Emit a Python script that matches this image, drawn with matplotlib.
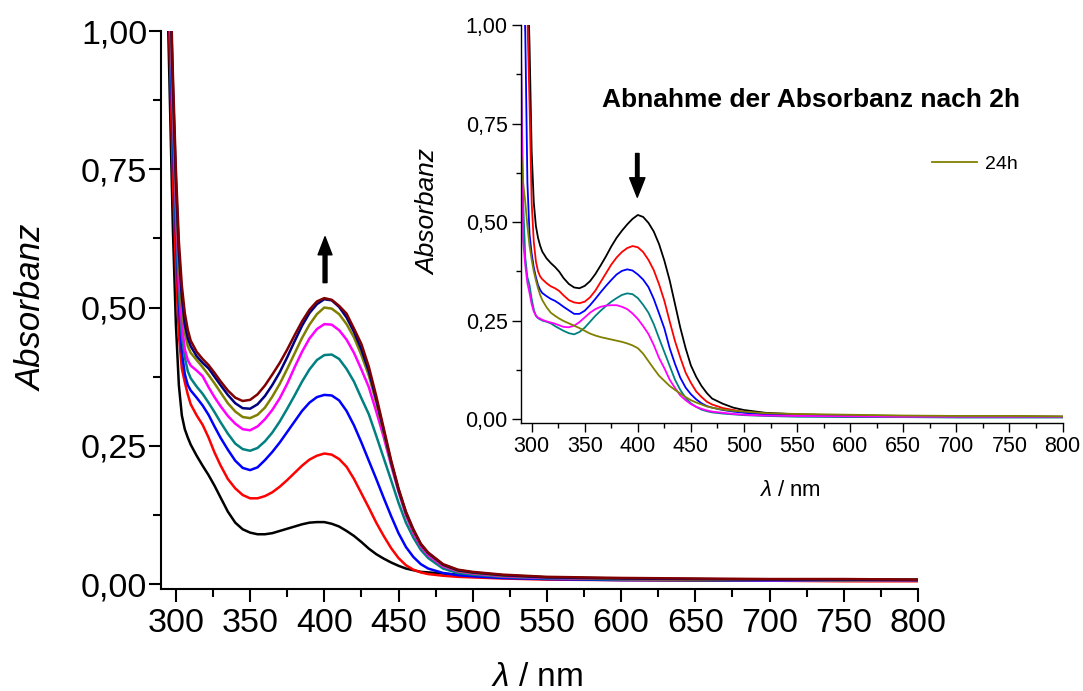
import matplotlib
matplotlib.use("Agg")
import matplotlib.pyplot as plt
from matplotlib.ticker import MultipleLocator, FuncFormatter

plt.rcParams['font.family'] = ['Liberation Sans', 'DejaVu Sans']
plt.rcParams['mathtext.fontset'] = 'custom'
plt.rcParams['mathtext.it'] = 'Liberation Sans:italic'
plt.rcParams['mathtext.rm'] = 'Liberation Sans'

# --- main spectra (nm, absorbance) ---
wl = [291, 294, 296, 298, 300, 302, 304, 306, 308, 310, 314, 318, 322, 326, 330,
      335, 340, 345, 350, 355, 360, 365, 370, 375, 380, 385, 390, 395, 400, 405,
      410, 415, 420, 425, 430, 435, 440, 445, 450, 455, 460, 465, 470, 480, 490,
      500, 520, 550, 600, 650, 700, 750, 800]

a_black = [1.6, 1.1, 0.87, 0.64, 0.47, 0.36, 0.305, 0.28, 0.265, 0.252, 0.232, 0.214, 0.197, 0.178, 0.157,
           0.131, 0.111, 0.099, 0.093, 0.090, 0.090, 0.092, 0.096, 0.100, 0.104, 0.108, 0.111, 0.112, 0.112, 0.109,
           0.104, 0.096, 0.087, 0.076, 0.064, 0.054, 0.046, 0.039, 0.033, 0.028, 0.025, 0.022, 0.021, 0.019, 0.017,
           0.016, 0.013, 0.011, 0.009, 0.008, 0.008, 0.008, 0.008]
a_red = [1.6, 1.2, 0.95, 0.73, 0.57, 0.45, 0.39, 0.365, 0.343, 0.325, 0.305, 0.288, 0.265, 0.238, 0.215,
         0.190, 0.173, 0.161, 0.155, 0.155, 0.159, 0.166, 0.176, 0.188, 0.201, 0.214, 0.225, 0.232, 0.236, 0.234,
         0.226, 0.212, 0.190, 0.164, 0.138, 0.111, 0.087, 0.065, 0.047, 0.034, 0.026, 0.021, 0.018, 0.015, 0.013,
         0.012, 0.010, 0.008, 0.007, 0.006, 0.006, 0.005, 0.005]
a_blue = [1.6, 1.25, 1.0, 0.8, 0.64, 0.51, 0.42, 0.38, 0.36, 0.35, 0.337, 0.323, 0.306, 0.285, 0.265,
          0.243, 0.223, 0.210, 0.206, 0.211, 0.224, 0.239, 0.256, 0.275, 0.294, 0.313, 0.328, 0.338, 0.342, 0.341,
          0.332, 0.313, 0.287, 0.256, 0.223, 0.190, 0.156, 0.123, 0.092, 0.067, 0.049, 0.036, 0.028, 0.020, 0.016,
          0.014, 0.011, 0.009, 0.007, 0.007, 0.006, 0.006, 0.006]
a_teal = [1.6, 1.28, 1.03, 0.83, 0.66, 0.53, 0.45, 0.41, 0.385, 0.372, 0.357, 0.344, 0.328, 0.311, 0.293,
          0.272, 0.254, 0.244, 0.241, 0.246, 0.258, 0.274, 0.294, 0.317, 0.341, 0.366, 0.388, 0.405, 0.414, 0.415,
          0.407, 0.389, 0.366, 0.336, 0.307, 0.268, 0.228, 0.188, 0.147, 0.111, 0.084, 0.062, 0.047, 0.028, 0.020,
          0.017, 0.013, 0.010, 0.008, 0.007, 0.007, 0.006, 0.006]
a_magenta = [1.6, 1.3, 1.06, 0.86, 0.69, 0.56, 0.47, 0.425, 0.405, 0.395, 0.386, 0.376, 0.356, 0.338, 0.322,
             0.304, 0.290, 0.280, 0.278, 0.285, 0.298, 0.315, 0.336, 0.362, 0.392, 0.420, 0.444, 0.461, 0.470, 0.469,
             0.459, 0.442, 0.418, 0.388, 0.356, 0.312, 0.266, 0.215, 0.167, 0.124, 0.092, 0.068, 0.052, 0.032, 0.023,
             0.019, 0.014, 0.011, 0.009, 0.008, 0.007, 0.007, 0.006]
a_olive = [1.6, 1.32, 1.08, 0.88, 0.71, 0.58, 0.50, 0.455, 0.43, 0.418, 0.405, 0.392, 0.378, 0.363, 0.347,
           0.327, 0.312, 0.302, 0.300, 0.306, 0.319, 0.339, 0.362, 0.389, 0.417, 0.445, 0.469, 0.488, 0.500, 0.498,
           0.488, 0.470, 0.446, 0.414, 0.377, 0.328, 0.274, 0.219, 0.170, 0.127, 0.096, 0.071, 0.055, 0.034, 0.024,
           0.020, 0.015, 0.012, 0.009, 0.008, 0.008, 0.007, 0.007]
a_navy = [1.6, 1.34, 1.1, 0.9, 0.73, 0.60, 0.52, 0.47, 0.445, 0.43, 0.412, 0.400, 0.390, 0.375, 0.360,
          0.342, 0.327, 0.318, 0.317, 0.325, 0.340, 0.360, 0.383, 0.410, 0.439, 0.467, 0.490, 0.506, 0.515, 0.513,
          0.501, 0.482, 0.456, 0.424, 0.385, 0.334, 0.278, 0.221, 0.171, 0.129, 0.098, 0.072, 0.056, 0.035, 0.025,
          0.021, 0.016, 0.012, 0.010, 0.009, 0.008, 0.008, 0.007]
a_maroon = [1.6, 1.36, 1.12, 0.92, 0.75, 0.62, 0.54, 0.49, 0.46, 0.44, 0.42, 0.407, 0.396, 0.382, 0.367,
            0.350, 0.337, 0.331, 0.333, 0.343, 0.359, 0.379, 0.400, 0.424, 0.450, 0.475, 0.496, 0.511, 0.517, 0.514,
            0.503, 0.489, 0.462, 0.434, 0.393, 0.340, 0.282, 0.224, 0.173, 0.131, 0.099, 0.073, 0.057, 0.036, 0.026,
            0.022, 0.017, 0.013, 0.011, 0.010, 0.009, 0.009, 0.008]

main_series = [(a_black, '#000000'), (a_red, '#ff0000'), (a_blue, '#0000ff'), (a_teal, '#008080'),
               (a_magenta, '#ff00ff'), (a_olive, '#808000'), (a_navy, '#000080'), (a_maroon, '#800000')]

# --- inset spectra (decrease after 2h) ---
wl_in = [289, 292, 294, 296, 298, 300, 302, 304, 306, 308, 310, 314, 318, 322, 326,
         330, 335, 340, 345, 350, 355, 360, 365, 370, 375, 380, 385, 390, 395, 400,
         405, 410, 415, 420, 425, 430, 435, 440, 445, 450, 455, 460, 465, 470, 480,
         490, 500, 520, 550, 600, 650, 700, 750, 800]

b_black = [1.5, 1.3, 1.22, 1.15, 0.95, 0.68, 0.55, 0.49, 0.46, 0.44, 0.425, 0.408, 0.396, 0.386, 0.374,
           0.358, 0.343, 0.334, 0.332, 0.338, 0.350, 0.368, 0.390, 0.413, 0.438, 0.460, 0.478, 0.494, 0.508, 0.518,
           0.513, 0.498, 0.476, 0.444, 0.402, 0.352, 0.292, 0.232, 0.180, 0.136, 0.107, 0.084, 0.066, 0.052, 0.039,
           0.029, 0.023, 0.016, 0.012, 0.009, 0.008, 0.007, 0.007, 0.006]
b_red = [1.5, 1.3, 1.15, 1.02, 0.80, 0.55, 0.45, 0.40, 0.375, 0.362, 0.355, 0.345, 0.337, 0.332, 0.325,
         0.314, 0.302, 0.296, 0.294, 0.298, 0.309, 0.326, 0.348, 0.370, 0.392, 0.410, 0.424, 0.434, 0.439, 0.436,
         0.424, 0.404, 0.378, 0.342, 0.300, 0.248, 0.198, 0.156, 0.118, 0.092, 0.070, 0.056, 0.044, 0.037, 0.028,
         0.023, 0.018, 0.013, 0.010, 0.008, 0.007, 0.006, 0.006, 0.005]
b_blue = [1.5, 1.15, 0.98, 0.60, 0.47, 0.42, 0.385, 0.36, 0.34, 0.328, 0.32, 0.312, 0.305, 0.300, 0.293,
          0.285, 0.276, 0.267, 0.267, 0.275, 0.289, 0.305, 0.322, 0.338, 0.353, 0.367, 0.376, 0.380, 0.377, 0.367,
          0.354, 0.335, 0.305, 0.268, 0.230, 0.180, 0.140, 0.105, 0.080, 0.063, 0.050, 0.040, 0.033, 0.029, 0.023,
          0.019, 0.016, 0.012, 0.009, 0.007, 0.006, 0.005, 0.005, 0.005]
b_teal = [1.1, 0.55, 0.41, 0.36, 0.34, 0.305, 0.278, 0.262, 0.256, 0.253, 0.25, 0.247, 0.243, 0.236, 0.230,
          0.224, 0.218, 0.215, 0.221, 0.232, 0.247, 0.262, 0.275, 0.287, 0.298, 0.307, 0.315, 0.319, 0.317, 0.307,
          0.290, 0.270, 0.241, 0.205, 0.170, 0.135, 0.100, 0.074, 0.054, 0.040, 0.031, 0.024, 0.020, 0.017, 0.014,
          0.012, 0.010, 0.008, 0.006, 0.005, 0.005, 0.004, 0.004, 0.004]
b_magenta = [1.2, 0.45, 0.39, 0.345, 0.32, 0.292, 0.273, 0.263, 0.257, 0.255, 0.252, 0.248, 0.245, 0.242, 0.238,
             0.234, 0.233, 0.237, 0.246, 0.258, 0.270, 0.279, 0.285, 0.288, 0.289, 0.289, 0.285, 0.279, 0.268, 0.254,
             0.236, 0.216, 0.188, 0.155, 0.129, 0.100, 0.079, 0.060, 0.048, 0.038, 0.031, 0.026, 0.022, 0.019, 0.016,
             0.013, 0.011, 0.009, 0.008, 0.007, 0.006, 0.006, 0.006, 0.006]
b_olive = [0.72, 0.60, 0.55, 0.49, 0.44, 0.405, 0.375, 0.352, 0.332, 0.315, 0.302, 0.284, 0.270, 0.262, 0.255,
           0.249, 0.243, 0.237, 0.231, 0.224, 0.217, 0.212, 0.208, 0.205, 0.202, 0.199, 0.196, 0.192, 0.187, 0.180,
           0.166, 0.147, 0.128, 0.110, 0.097, 0.084, 0.074, 0.065, 0.056, 0.048, 0.042, 0.037, 0.032, 0.029, 0.024,
           0.021, 0.019, 0.015, 0.013, 0.011, 0.009, 0.008, 0.008, 0.007]

inset_series = [(b_black, '#000000'), (b_red, '#ff0000'), (b_blue, '#0000ff'), (b_teal, '#008080'),
                (b_magenta, '#ff00ff'), (b_olive, '#808000')]

comma_fmt = FuncFormatter(lambda v, pos: f'{v:.2f}'.replace('.', ','))

fig = plt.figure(figsize=(10.83, 6.91), dpi=100)

# --- main axes ---
ax = fig.add_axes([0.1487, 0.1476, 0.6989, 0.8075])
for vals, col in main_series:
    ax.plot(wl, vals, color=col, lw=1.8)
ax.set_xlim(290, 800)
ax.set_ylim(-0.009, 1.0)
ax.xaxis.set_major_locator(MultipleLocator(50))
ax.xaxis.set_minor_locator(MultipleLocator(25))
ax.yaxis.set_major_locator(MultipleLocator(0.25))
ax.yaxis.set_minor_locator(MultipleLocator(0.125))
ax.yaxis.set_major_formatter(comma_fmt)
for s in ['top', 'right']:
    ax.spines[s].set_visible(False)
for s in ['left', 'bottom']:
    ax.spines[s].set_linewidth(1.5)
ax.tick_params(which='major', direction='out', length=9, width=1.5, labelsize=24.5)
ax.tick_params(which='minor', direction='out', length=5.5, width=1.5)
ax.tick_params(axis='x', pad=5)
ax.tick_params(axis='y', pad=1)
ax.set_ylabel('Absorbanz', fontsize=25, style='italic')
ax.yaxis.set_label_coords(-0.149, 0.504)
ax.set_xlabel('$\\mathit{\\lambda}$ / nm', fontsize=24)
ax.xaxis.set_label_coords(0.497, -0.13)
ax.annotate('', xy=(400.5, 0.628), xytext=(400.5, 0.545),
            arrowprops=dict(facecolor='black', edgecolor='black', width=2.8,
                            headwidth=10, headlength=13, shrink=0))

# --- inset axes ---
ax_in = fig.add_axes([0.4811, 0.3878, 0.5, 0.576])
lines = []
for vals, col in inset_series:
    ln, = ax_in.plot(wl_in, vals, color=col, lw=1.3)
    lines.append(ln)
ax_in.set_xlim(290, 800)
ax_in.set_ylim(-0.01, 1.0)
ax_in.xaxis.set_major_locator(MultipleLocator(50))
ax_in.xaxis.set_minor_locator(MultipleLocator(25))
ax_in.yaxis.set_major_locator(MultipleLocator(0.25))
ax_in.yaxis.set_minor_locator(MultipleLocator(0.125))
ax_in.yaxis.set_major_formatter(comma_fmt)
for s in ['top', 'right']:
    ax_in.spines[s].set_visible(False)
for s in ['left', 'bottom']:
    ax_in.spines[s].set_linewidth(1.0)
ax_in.tick_params(which='major', direction='out', length=6.5, width=1.0, labelsize=15.5, pad=3)
ax_in.tick_params(which='minor', direction='out', length=3.5, width=1.0)
ax_in.set_ylabel('Absorbanz', fontsize=19, style='italic')
ax_in.yaxis.set_label_coords(-0.15, 0.53)
ax_in.set_xlabel('$\\mathit{\\lambda}$ / nm', fontsize=16)
ax_in.xaxis.set_label_coords(0.497, -0.143)
ax_in.annotate('', xy=(399.5, 0.563), xytext=(399.5, 0.674),
               arrowprops=dict(facecolor='black', edgecolor='black', width=2.5,
                               headwidth=11, headlength=14, shrink=0))
ax_in.legend([lines[-1]], ['24h'], loc='center left', bbox_to_anchor=(0.8606, 0.7627),
             bbox_transform=fig.transFigure, frameon=False, fontsize=14,
             handlelength=2.3, handletextpad=0.4, borderpad=0, borderaxespad=0)

fig.text(0.749, 0.855, 'Abnahme der Absorbanz nach 2h', ha='center', va='center',
         fontsize=19, fontweight='bold')

fig.savefig('out.png', dpi=100)
